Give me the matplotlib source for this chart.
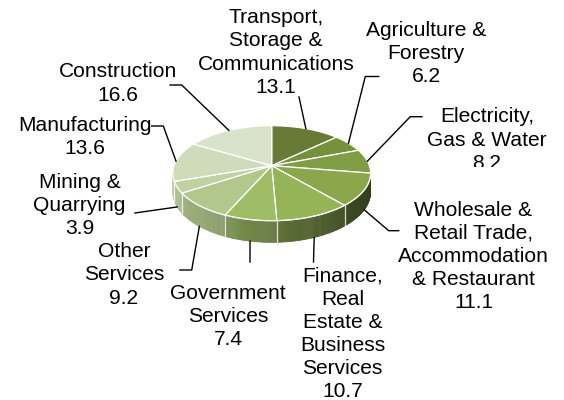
import numpy as np
import matplotlib
matplotlib.use('Agg')
import matplotlib.pyplot as plt
from matplotlib.patches import Polygon
from matplotlib.transforms import Bbox, TransformedBbox

# data, clockwise from 12 o'clock
sectors = ['Transport,\nStorage &\nCommunications', 'Agriculture &\nForestry',
           'Electricity,\nGas & Water', 'Wholesale &\nRetail Trade,\nAccommodation\n& Restaurant',
           'Finance,\nReal\nEstate &\nBusiness\nServices', 'Government\nServices',
           'Other\nServices', 'Mining &\nQuarrying', 'Manufacturing', 'Construction']
shares = [13.1, 6.2, 8.2, 11.1, 10.7, 7.4, 9.2, 3.9, 13.6, 16.6]
colors = ['#677b37', '#76913c', '#7f9d44', '#8aa74e', '#95b458',
          '#9fbc66', '#b1c78b', '#c0d2a2', '#cfdcbb', '#d9e3cb']

# label layout (pixel coords) and leader paths outward from the slice
label_pos = [(276, 52.5), (426, 53.5), (487, 140), (473.5, 256.5), (342.5, 334),
             (228, 316.5), (124, 275), (79.5, 205.5), (84.5, 137), (117.5, 83.5)]
leaders = [[(299, 97)],
           [(365.3, 76.5), (378.7, 76.5)],
           [(410.3, 116.7), (422, 116.7)],
           [(388.7, 230.7), (398.7, 230.7)],
           [(313.5, 262)],
           [(250, 262)],
           [(191.7, 270), (180, 270)],
           [(135, 213)],
           [(163.3, 126), (151.7, 126)],
           [(181.7, 85), (170, 85)]]

# pie geometry with a bit of perspective
cx, cy = 271.7, 165.7
A, B, k, depth = 46.3, 97.7, 0.158, 18.3


def proj(th):
    th = np.radians(th)
    u, v = np.sin(th), np.cos(th)
    s = 1.0 / (1 + k * v)
    return cx + B * u * s, cy - A * v * s, depth * s


def darker(c, f):
    r, g, b = matplotlib.colors.to_rgb(c)
    return (r * f, g * f, b * f)


fig = plt.figure(figsize=(5.64, 4.0), dpi=100)
ax = fig.add_axes([0, 0, 1, 1])
ax.set_xlim(0, 564)
ax.set_ylim(400, 0)
ax.axis('off')

vals = np.array(shares)
edges = np.concatenate([[0], np.cumsum(vals)]) / vals.sum() * 360
vis_lo = np.degrees(np.arccos(-k))
vis_hi = 360 - vis_lo

# side wall
for i in range(len(vals)):
    a0, a1 = max(edges[i], vis_lo), min(edges[i + 1], vis_hi)
    if a1 <= a0:
        continue
    ts = np.linspace(a0, a1, max(int((a1 - a0) * 2), 2))
    for t0, t1 in zip(ts[:-1], ts[1:]):
        x0, y0, d0 = proj(t0)
        x1, y1, d1 = proj(t1)
        f = np.clip(0.9 - ((x0 + x1) / 2 - 182) * 0.0028, 0.36, 0.95)
        col = darker(colors[i], f)
        ax.add_patch(Polygon([(x0, y0), (x1, y1), (x1, y1 + d1), (x0, y0 + d0)],
                             closed=True, facecolor=col, edgecolor=col, lw=0.4, zorder=2))
for e in edges[1:-1]:
    if vis_lo < e < vis_hi:
        x, y, d = proj(e)
        ax.plot([x, x], [y, y + d], color='white', lw=0.9, alpha=0.8, zorder=3)

# top face
for i in range(len(vals)):
    ts = np.linspace(edges[i], edges[i + 1], 60)
    pts = [(cx, cy)] + [proj(t)[:2] for t in ts]
    ax.add_patch(Polygon(pts, closed=True, facecolor=colors[i], edgecolor='white',
                         lw=0.9, joinstyle='round', zorder=4))
ts = np.linspace(vis_lo, vis_hi, 200)
rim = np.array([proj(t)[:2] for t in ts])
ax.plot(rim[:, 0], rim[:, 1], color='#f2f5ea', lw=0.8, zorder=5)

# labels and leader lines
clip = TransformedBbox(Bbox([[0, 0], [564, 166.5]]), ax.transData)
for i, name in enumerate(sectors):
    mid = (edges[i] + edges[i + 1]) / 2
    x, y, d = proj(mid)
    if vis_lo < mid < vis_hi:
        y += d
    path = [(x, y)] + leaders[i]
    ax.plot([p[0] for p in path], [p[1] for p in path], color='black', lw=1.0, zorder=6)
    lx, ly = label_pos[i]
    t = ax.text(lx, ly, f'{name}\n{shares[i]}', ha='center', va='center',
                fontsize=15.1, family='Liberation Sans', linespacing=1.27, zorder=7)
    if i == 2:
        t.set_clip_on(True)
        t.set_clip_box(clip)

fig.savefig('out.png', dpi=100)
